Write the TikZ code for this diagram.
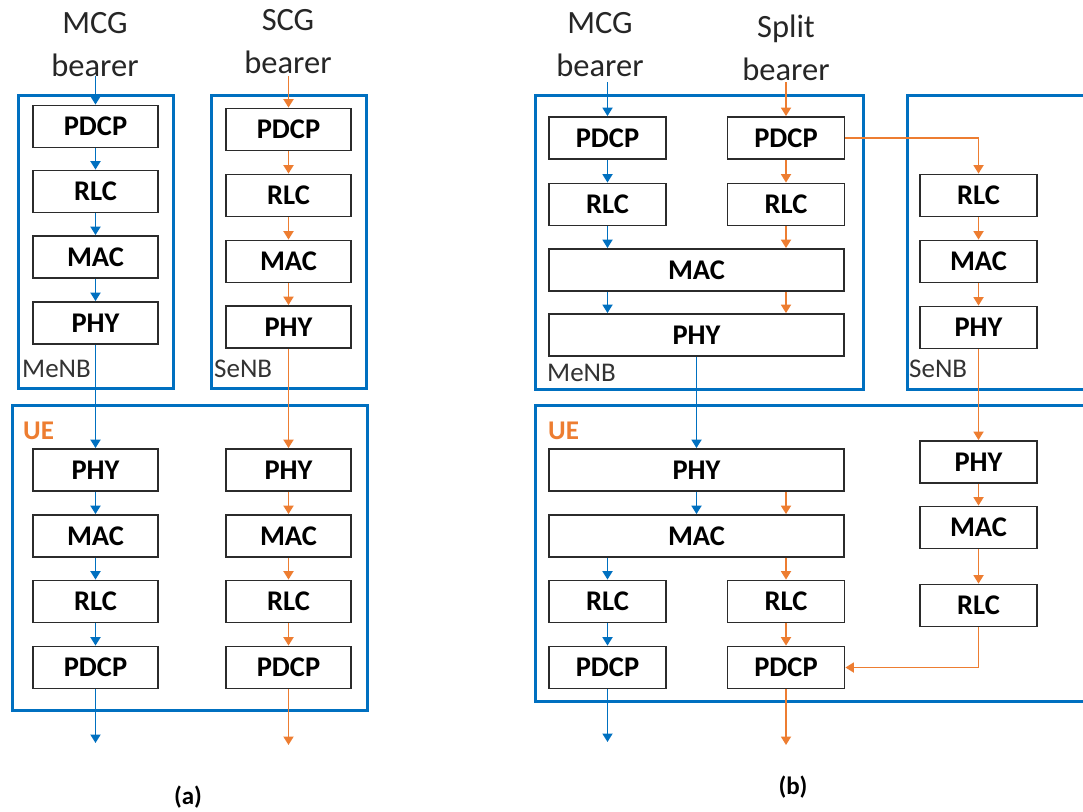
\documentclass[tikz,border=0pt]{standalone}
\usepackage{fontspec}
\setmainfont{Carlito}
\usetikzlibrary{arrows.meta}
\definecolor{netblue}{HTML}{0070C0}
\definecolor{netorange}{HTML}{ED7D31}
\definecolor{boxline}{HTML}{2B2B2B}

\begin{document}
\begin{tikzpicture}[x=1pt,y=-1pt,
  layer/.style={draw=boxline, line width=1.8pt, fill=white, inner sep=0pt,
    minimum height=42pt, text=black,
    font=\fontsize{28.5}{28.5}\selectfont\bfseries},
  colA/.style={layer, minimum width=125pt},
  colB/.style={layer, minimum width=117pt},
  wideB/.style={layer, minimum width=295pt},
  station/.style={draw=netblue, line width=3pt, inner sep=0pt},
  header/.style={anchor=base, inner sep=0pt, text=black!85,
    font=\fontsize{32.5}{32.5}\selectfont},
  sitename/.style={anchor=west, inner sep=0pt, text=black!80,
    font=\fontsize{27}{27}\selectfont},
  uename/.style={anchor=west, inner sep=0pt, text=netorange,
    font=\fontsize{27}{27}\selectfont\bfseries},
  caption/.style={inner sep=0pt, text=black,
    font=\fontsize{25}{25}\selectfont\bfseries},
  tip/.style={-{Triangle[width=10pt,length=8.5pt]}},
  blueflow/.style={draw=netblue, line width=1.8pt, tip},
  orangeflow/.style={draw=netorange, line width=1.8pt, tip}
]
\path[use as bounding box] (0,0) rectangle (1083,811);
\clip (0,0) rectangle (1083,811);

% ---------------- (a) MCG bearer and SCG bearer ----------------
\node[station, minimum width=155pt, minimum height=293pt] (aMeNB) at (95.5,241.5) {};
\node[station, minimum width=155pt, minimum height=293pt] (aSeNB) at (288.5,241.5) {};
\node[station, minimum width=355pt, minimum height=305pt] (aUE) at (189.5,557.5) {};

\node[header] (aH1) at (95,33) {MCG};
\node[header] (aH1b) at (95,76) {bearer};
\node[header] (aH2) at (288,30) {SCG};
\node[header] (aH2b) at (288,73) {bearer};

\node[sitename] (aMeNBl) at (22,369) {MeNB};
\node[sitename] (aSeNBl) at (214,369) {SeNB};
\node[uename] (aUEl) at (23,431) {UE};

\node[colA] (aP1) at (95.5,126.5) {PDCP};
\node[colA] (aR1) at (95.5,191.5) {RLC};
\node[colA] (aM1) at (95.5,257) {MAC};
\node[colA] (aY1) at (95.5,323) {PHY};
\node[colA] (aP2) at (288.5,129.5) {PDCP};
\node[colA] (aR2) at (288.5,195.5) {RLC};
\node[colA] (aM2) at (288.5,261.5) {MAC};
\node[colA] (aY2) at (288.5,327) {PHY};

\node[colA] (auY1) at (95.5,470) {PHY};
\node[colA] (auM1) at (95.5,536) {MAC};
\node[colA] (auR1) at (95.5,601.5) {RLC};
\node[colA] (auP1) at (95.5,667.5) {PDCP};
\node[colA] (auY2) at (288.5,470) {PHY};
\node[colA] (auM2) at (288.5,536) {MAC};
\node[colA] (auR2) at (288.5,601.5) {RLC};
\node[colA] (auP2) at (288.5,667.5) {PDCP};

\coordinate (aIn1) at (95.5,76);
\coordinate (aIn2) at (288.5,76);
\coordinate (aOut1) at (95.5,743);
\coordinate (aOut2) at (288.5,745);

\draw[blueflow] (aIn1) -- (aP1.north);
\draw[blueflow] (aP1.south) -- (aR1.north);
\draw[blueflow] (aR1.south) -- (aM1.north);
\draw[blueflow] (aM1.south) -- (aY1.north);
\draw[blueflow] (aY1.south) -- (auY1.north);
\draw[blueflow] (auY1.south) -- (auM1.north);
\draw[blueflow] (auM1.south) -- (auR1.north);
\draw[blueflow] (auR1.south) -- (auP1.north);
\draw[blueflow] (auP1.south) -- (aOut1);

\draw[orangeflow] (aIn2) -- (aP2.north);
\draw[orangeflow] (aP2.south) -- (aR2.north);
\draw[orangeflow] (aR2.south) -- (aM2.north);
\draw[orangeflow] (aM2.south) -- (aY2.north);
\draw[orangeflow] (aY2.south) -- (auY2.north);
\draw[orangeflow] (auY2.south) -- (auM2.north);
\draw[orangeflow] (auM2.south) -- (auR2.north);
\draw[orangeflow] (auR2.south) -- (auP2.north);
\draw[orangeflow] (auP2.south) -- (aOut2);

\node[caption] (capA) at (188,797) {(a)};

% ---------------- (b) MCG bearer and split bearer ----------------
\node[station, minimum width=328pt, minimum height=294pt] (bMeNB) at (699,242) {};
\node[station, minimum width=188pt, minimum height=294pt] (bSeNB) at (1001,242) {};
\node[station, minimum width=560pt, minimum height=296pt] (bUE) at (815,553) {};

\node[header] (bH1) at (600,33) {MCG};
\node[header] (bH1b) at (600,76) {bearer};
\node[header] (bH2) at (786,37) {Split};
\node[header] (bH2b) at (786,80) {bearer};

\node[sitename] (bMeNBl) at (547,373) {MeNB};
\node[sitename] (bSeNBl) at (909,369) {SeNB};
\node[uename] (bUEl) at (548,431) {UE};

\node[colB] (bP1) at (607.5,138) {PDCP};
\node[colB] (bP2) at (786,138) {PDCP};
\node[colB] (bR1) at (607.5,204.5) {RLC};
\node[colB] (bR2) at (786,204.5) {RLC};
\node[wideB] (bM) at (696.5,270) {MAC};
\node[wideB] (bY) at (696.5,335) {PHY};

\node[colB] (sR) at (978.5,195.5) {RLC};
\node[colB] (sM) at (978.5,261.5) {MAC};
\node[colB] (sY) at (978.5,327.5) {PHY};

\node[wideB] (buY) at (696.5,470) {PHY};
\node[wideB] (buM) at (696.5,536) {MAC};
\node[colB] (buR1) at (607.5,601.5) {RLC};
\node[colB] (buR2) at (786,601.5) {RLC};
\node[colB] (buP1) at (607.5,667.5) {PDCP};
\node[colB] (buP2) at (786,667.5) {PDCP};

\node[colB] (suY) at (978.5,462) {PHY};
\node[colB] (suM) at (978.5,527.5) {MAC};
\node[colB] (suR) at (978.5,605.5) {RLC};

\coordinate (bIn1) at (607.5,82);
\coordinate (bIn2) at (786,82);
\coordinate (bOut1) at (607.5,742);
\coordinate (bOut2) at (786,745);

\draw[blueflow] (bIn1) -- (bP1.north);
\draw[blueflow] (bP1.south) -- (bR1.north);
\draw[blueflow] (bR1.south) -- (bR1.south |- bM.north);
\draw[blueflow] (bM.south -| bR1) -- (bY.north -| bR1);
\draw[blueflow] (bY.south) -- (buY.north);
\draw[blueflow] (buY.south) -- (buM.north);
\draw[blueflow] (buM.south -| buR1) -- (buR1.north);
\draw[blueflow] (buR1.south) -- (buP1.north);
\draw[blueflow] (buP1.south) -- (bOut1);

\draw[orangeflow] (bIn2) -- (bP2.north);
\draw[orangeflow] (bP2.south) -- (bR2.north);
\draw[orangeflow] (bR2.south) -- (bR2.south |- bM.north);
\draw[orangeflow] (bM.south -| bR2) -- (bY.north -| bR2);
\draw[orangeflow] (bP2.east) -| (sR.north);
\draw[orangeflow] (sR.south) -- (sM.north);
\draw[orangeflow] (sM.south) -- (sY.north);
\draw[orangeflow] (sY.south) -- (suY.north);
\draw[orangeflow] (suY.south) -- (suM.north);
\draw[orangeflow] (suM.south) -- (suR.north);
\draw[orangeflow] (suR.south) |- (buP2.east);
\draw[orangeflow] (buY.south -| buR2) -- (buM.north -| buR2);
\draw[orangeflow] (buM.south -| buR2) -- (buR2.north);
\draw[orangeflow] (buR2.south) -- (buP2.north);
\draw[orangeflow] (buP2.south) -- (bOut2);

\node[caption] (capB) at (793,787) {(b)};
\end{tikzpicture}
\end{document}
